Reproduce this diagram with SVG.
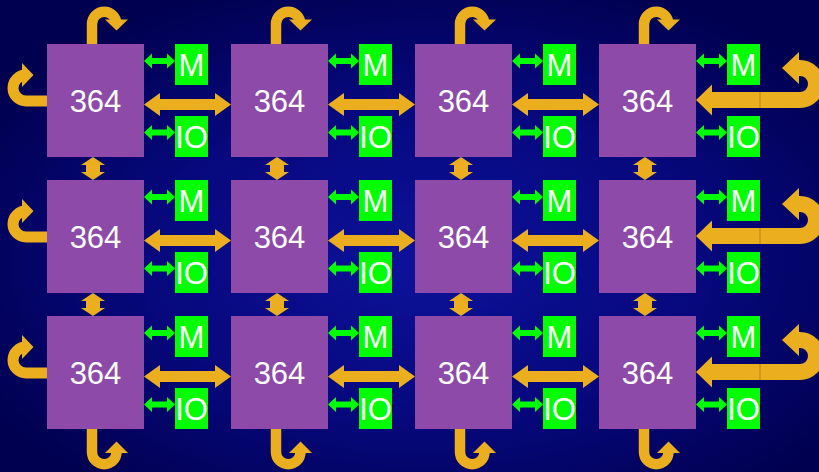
<svg xmlns="http://www.w3.org/2000/svg" width="819" height="472" viewBox="0 0 819 472">
<defs>
<radialGradient id="bg" cx="52%" cy="55%" r="62%">
<stop offset="0" stop-color="#0d129a"/>
<stop offset="0.55" stop-color="#06087c"/>
<stop offset="1" stop-color="#000050"/>
</radialGradient>
<style>
.chip{fill:#8e4aa8}
.mem{fill:#00ff00}
.t{font-family:"Liberation Sans",Arial,sans-serif;fill:#ffffff;text-anchor:middle}
.big{font-size:31px}
.sm{font-size:31px}
.or{fill:#ebae1f}
.ors{fill:none;stroke:#ebae1f}
.gr{fill:#00ff00}
</style>
<polygon id="garr" class="gr" points="0,0 8,-7.5 8,-3 23,-3 23,-7.5 31,0 23,7.5 23,3 8,3 8,7.5"/>
<polygon id="harr" class="or" points="0,0 16,-11.5 16,-5.5 71,-5.5 71,-11.5 87,0 71,11.5 71,5.5 16,5.5 16,11.5"/>
<polygon id="varr" class="or" points="0,0 12,8 7,8 7,15 12,15 0,23 -12,15 -7,15 -7,8 -12,8"/>
<g id="topu">
<path class="ors" stroke-width="10.5" d="M92,44 V24 A12.25,12.25 0 0 1 116.5,24 V25"/>
<polygon class="or" points="105,19.5 128,19.5 116.5,30.5"/>
</g>
<g id="botu">
<path class="ors" stroke-width="10.5" d="M92,429 V452 A12.25,12.25 0 0 0 116.5,452 V451"/>
<polygon class="or" points="105,453 128,453 116.5,441.5"/>
</g>
<g id="leftu">
<path class="ors" stroke-width="11" d="M47,101 H26 A13,13 0 0 1 26,75 H25"/>
<polygon class="or" points="22,63 22,87 33.5,75"/>
</g>
<g id="rightu">
<path class="ors" stroke-width="16" d="M711,100 H800 A16,16 0 0 0 800,68 H798"/>
<polygon class="or" points="696,100 712,84.5 712,115.5"/>
<polygon class="or" points="799,52 799,84 782,68"/>
<line x1="760" y1="92" x2="760" y2="108" stroke="#b9820f" stroke-width="1"/>
</g>
</defs>
<rect width="819" height="472" fill="url(#bg)"/>

<g id="connectors">
<!-- top U arrows -->
<use href="#topu"/>
<use href="#topu" transform="translate(184,0)"/>
<use href="#topu" transform="translate(368,0)"/>
<use href="#topu" transform="translate(552,0)"/>
<!-- bottom U arrows -->
<use href="#botu"/>
<use href="#botu" transform="translate(184,0)"/>
<use href="#botu" transform="translate(368,0)"/>
<use href="#botu" transform="translate(552,0)"/>
<!-- left U arrows -->
<use href="#leftu"/>
<use href="#leftu" transform="translate(0,136)"/>
<use href="#leftu" transform="translate(0,272)"/>
<!-- right U arrows -->
<use href="#rightu"/>
<use href="#rightu" transform="translate(0,136)"/>
<use href="#rightu" transform="translate(0,272)"/>
<!-- horizontal chip links -->
<use href="#harr" transform="translate(144,104.5)"/>
<use href="#harr" transform="translate(328,104.5)"/>
<use href="#harr" transform="translate(512,104.5)"/>
<use href="#harr" transform="translate(144,240.5)"/>
<use href="#harr" transform="translate(328,240.5)"/>
<use href="#harr" transform="translate(512,240.5)"/>
<use href="#harr" transform="translate(144,376.5)"/>
<use href="#harr" transform="translate(328,376.5)"/>
<use href="#harr" transform="translate(512,376.5)"/>
<!-- vertical chip links -->
<use href="#varr" transform="translate(93,157)"/>
<use href="#varr" transform="translate(277,157)"/>
<use href="#varr" transform="translate(461,157)"/>
<use href="#varr" transform="translate(645,157)"/>
<use href="#varr" transform="translate(93,293)"/>
<use href="#varr" transform="translate(277,293)"/>
<use href="#varr" transform="translate(461,293)"/>
<use href="#varr" transform="translate(645,293)"/>
<!-- green M / IO links -->
<use href="#garr" transform="translate(144,61)"/>
<use href="#garr" transform="translate(144,132.5)"/>
<use href="#garr" transform="translate(328,61)"/>
<use href="#garr" transform="translate(328,132.5)"/>
<use href="#garr" transform="translate(512,61)"/>
<use href="#garr" transform="translate(512,132.5)"/>
<use href="#garr" transform="translate(696,61)"/>
<use href="#garr" transform="translate(696,132.5)"/>
<use href="#garr" transform="translate(144,197)"/>
<use href="#garr" transform="translate(144,268.5)"/>
<use href="#garr" transform="translate(328,197)"/>
<use href="#garr" transform="translate(328,268.5)"/>
<use href="#garr" transform="translate(512,197)"/>
<use href="#garr" transform="translate(512,268.5)"/>
<use href="#garr" transform="translate(696,197)"/>
<use href="#garr" transform="translate(696,268.5)"/>
<use href="#garr" transform="translate(144,333)"/>
<use href="#garr" transform="translate(144,404.5)"/>
<use href="#garr" transform="translate(328,333)"/>
<use href="#garr" transform="translate(328,404.5)"/>
<use href="#garr" transform="translate(512,333)"/>
<use href="#garr" transform="translate(512,404.5)"/>
<use href="#garr" transform="translate(696,333)"/>
<use href="#garr" transform="translate(696,404.5)"/>
</g>

<!-- Row 1 -->
<g id="chip-1-1"><rect class="chip" x="47" y="44" width="97" height="113"/><text class="t big" x="95.5" y="112">364</text></g>
<g id="m-1-1"><rect class="mem" x="175" y="44" width="33" height="41"/><text class="t sm" x="191.5" y="76">M</text></g>
<g id="io-1-1"><rect class="mem" x="175" y="116" width="33" height="41"/><text class="t sm" x="191.5" y="148">IO</text></g>
<g id="chip-1-2"><rect class="chip" x="231" y="44" width="97" height="113"/><text class="t big" x="279.5" y="112">364</text></g>
<g id="m-1-2"><rect class="mem" x="359" y="44" width="33" height="41"/><text class="t sm" x="375.5" y="76">M</text></g>
<g id="io-1-2"><rect class="mem" x="359" y="116" width="33" height="41"/><text class="t sm" x="375.5" y="148">IO</text></g>
<g id="chip-1-3"><rect class="chip" x="415" y="44" width="97" height="113"/><text class="t big" x="463.5" y="112">364</text></g>
<g id="m-1-3"><rect class="mem" x="543" y="44" width="33" height="41"/><text class="t sm" x="559.5" y="76">M</text></g>
<g id="io-1-3"><rect class="mem" x="543" y="116" width="33" height="41"/><text class="t sm" x="559.5" y="148">IO</text></g>
<g id="chip-1-4"><rect class="chip" x="599" y="44" width="97" height="113"/><text class="t big" x="647.5" y="112">364</text></g>
<g id="m-1-4"><rect class="mem" x="727" y="44" width="33" height="41"/><text class="t sm" x="743.5" y="76">M</text></g>
<g id="io-1-4"><rect class="mem" x="727" y="116" width="33" height="41"/><text class="t sm" x="743.5" y="148">IO</text></g>

<!-- Row 2 -->
<g id="chip-2-1"><rect class="chip" x="47" y="180" width="97" height="113"/><text class="t big" x="95.5" y="248">364</text></g>
<g id="m-2-1"><rect class="mem" x="175" y="180" width="33" height="41"/><text class="t sm" x="191.5" y="212">M</text></g>
<g id="io-2-1"><rect class="mem" x="175" y="252" width="33" height="41"/><text class="t sm" x="191.5" y="284">IO</text></g>
<g id="chip-2-2"><rect class="chip" x="231" y="180" width="97" height="113"/><text class="t big" x="279.5" y="248">364</text></g>
<g id="m-2-2"><rect class="mem" x="359" y="180" width="33" height="41"/><text class="t sm" x="375.5" y="212">M</text></g>
<g id="io-2-2"><rect class="mem" x="359" y="252" width="33" height="41"/><text class="t sm" x="375.5" y="284">IO</text></g>
<g id="chip-2-3"><rect class="chip" x="415" y="180" width="97" height="113"/><text class="t big" x="463.5" y="248">364</text></g>
<g id="m-2-3"><rect class="mem" x="543" y="180" width="33" height="41"/><text class="t sm" x="559.5" y="212">M</text></g>
<g id="io-2-3"><rect class="mem" x="543" y="252" width="33" height="41"/><text class="t sm" x="559.5" y="284">IO</text></g>
<g id="chip-2-4"><rect class="chip" x="599" y="180" width="97" height="113"/><text class="t big" x="647.5" y="248">364</text></g>
<g id="m-2-4"><rect class="mem" x="727" y="180" width="33" height="41"/><text class="t sm" x="743.5" y="212">M</text></g>
<g id="io-2-4"><rect class="mem" x="727" y="252" width="33" height="41"/><text class="t sm" x="743.5" y="284">IO</text></g>

<!-- Row 3 -->
<g id="chip-3-1"><rect class="chip" x="47" y="316" width="97" height="113"/><text class="t big" x="95.5" y="384">364</text></g>
<g id="m-3-1"><rect class="mem" x="175" y="316" width="33" height="41"/><text class="t sm" x="191.5" y="348">M</text></g>
<g id="io-3-1"><rect class="mem" x="175" y="388" width="33" height="41"/><text class="t sm" x="191.5" y="420">IO</text></g>
<g id="chip-3-2"><rect class="chip" x="231" y="316" width="97" height="113"/><text class="t big" x="279.5" y="384">364</text></g>
<g id="m-3-2"><rect class="mem" x="359" y="316" width="33" height="41"/><text class="t sm" x="375.5" y="348">M</text></g>
<g id="io-3-2"><rect class="mem" x="359" y="388" width="33" height="41"/><text class="t sm" x="375.5" y="420">IO</text></g>
<g id="chip-3-3"><rect class="chip" x="415" y="316" width="97" height="113"/><text class="t big" x="463.5" y="384">364</text></g>
<g id="m-3-3"><rect class="mem" x="543" y="316" width="33" height="41"/><text class="t sm" x="559.5" y="348">M</text></g>
<g id="io-3-3"><rect class="mem" x="543" y="388" width="33" height="41"/><text class="t sm" x="559.5" y="420">IO</text></g>
<g id="chip-3-4"><rect class="chip" x="599" y="316" width="97" height="113"/><text class="t big" x="647.5" y="384">364</text></g>
<g id="m-3-4"><rect class="mem" x="727" y="316" width="33" height="41"/><text class="t sm" x="743.5" y="348">M</text></g>
<g id="io-3-4"><rect class="mem" x="727" y="388" width="33" height="41"/><text class="t sm" x="743.5" y="420">IO</text></g>
</svg>
